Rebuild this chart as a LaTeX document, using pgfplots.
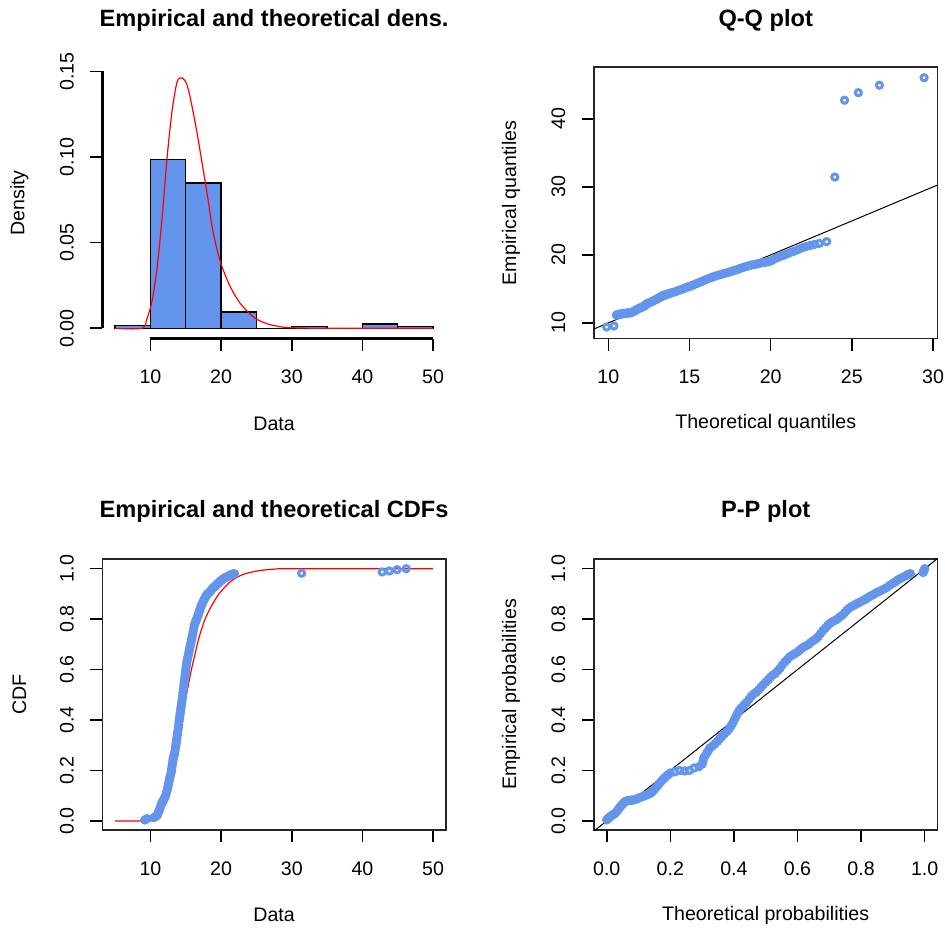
\documentclass[border=0pt]{standalone}
\usepackage{fontspec}
\setmainfont{Liberation Sans}
\usepackage{pgfplots}
\pgfplotsset{compat=1.18}
\definecolor{cfblue}{RGB}{100,149,237}

\pgfplotsset{
  rpanel/.style={
    scale only axis, width=171.7pt, height=135.7pt, anchor=south west,
    font=\fontsize{9.8}{11}\selectfont,
    tick align=outside, major tick length=6pt,
    tick style={black, line width=0.8pt},
    xtick pos=bottom, ytick pos=left,
    axis line style={black!85, line width=0.9pt},
    xticklabel shift=6.3pt,
    yticklabel style={rotate=90, anchor=south},
    yticklabel shift=4.8pt,
    every axis title/.style={at={(axis description cs:0.5,1)}, yshift=23.5pt, anchor=center,
      font=\bfseries\fontsize{11.8}{13}\selectfont},
    every axis x label/.style={at={(axis description cs:0.5,0)}, yshift=-42.5pt, anchor=center},
    every axis y label/.style={at={(axis description cs:0,0.5)}, xshift=-41.5pt, rotate=90, anchor=center},
  },
  pts/.style={only marks, mark=o, mark size=1.55pt, mark options={draw=cfblue, line width=1.5pt}},
}

\begin{document}
\begin{tikzpicture}
\useasboundingbox (0,0) rectangle (472.5pt,466pt);

% density
\begin{axis}[rpanel, at={(51.2pt,296.7pt)}, clip=false,
  axis line style={draw=none},
  xmin=3.2, xmax=51.8, ymin=-0.00602, ymax=0.1524,
  xtick={10,20,30,40,50}, xticklabels={10,20,30,40,50},
  ytick={0,0.05,0.1,0.15}, yticklabels={0.00,0.05,0.10,0.15},
  title={Empirical and theoretical dens.}, xlabel={Data}, ylabel={Density}]
\addplot[ybar interval, fill=cfblue, draw=black, line width=0.7pt] coordinates {
  (5,0.0017) (10,0.0985) (15,0.0847) (20,0.0096) (25,0) (30,0.0009)
  (35,0) (40,0.0026) (45,0.0009) (50,0.0009)};
\addplot[red, line width=0.6pt, smooth] coordinates {
  (5,0) (8.8,0) (9.5,0.0055) (10.24,0.0162) (10.95,0.0357) (11.66,0.0649)
  (12.36,0.0999) (13.07,0.1272) (13.78,0.1438) (14.49,0.1461) (15.2,0.1418)
  (15.9,0.1292) (16.61,0.1136) (17.32,0.0961) (18.03,0.0785) (18.74,0.059)
  (19.45,0.0454) (20.15,0.0357) (21.33,0.024) (22.75,0.0143) (24.64,0.0064)
  (26.53,0.0026) (28.9,0.0006) (31,0.0002) (35,0) (50,0)};
\draw[black, line width=1.3pt] (axis cs:3.2,0) -- (axis cs:3.2,0.15);
\draw[black, line width=1.3pt] (axis cs:10,-0.00602) -- (axis cs:50,-0.00602);
\end{axis}

% Q-Q
\begin{axis}[rpanel, at={(297pt,296.7pt)},
  xmin=9.12, xmax=30.27, ymin=7.7, ymax=47.6,
  xtick={10,15,20,25,30}, xticklabels={10,15,20,25,30},
  ytick={10,20,30,40}, yticklabels={10,20,30,40},
  title={Q-Q plot}, xlabel={Theoretical quantiles}, ylabel={Empirical quantiles}]
\addplot[pts] coordinates {
  (9.90,9.40) (10.35,9.55) (10.50,11.15) (10.56,11.25) (10.62,11.25) (10.70,11.30)
  (10.75,11.30) (10.82,11.32) (10.88,11.35) (10.95,11.38) (11.00,11.40) (11.08,11.42)
  (11.15,11.45) (11.22,11.46) (11.30,11.48) (11.38,11.50) (11.45,11.55) (11.52,11.65)
  (11.60,11.75) (11.68,11.85) (11.75,11.95) (11.82,12.05) (11.90,12.15) (11.98,12.22)
  (12.05,12.30) (12.12,12.38) (12.20,12.45) (12.28,12.62) (12.35,12.80) (12.42,12.88)
  (12.50,12.95) (12.58,13.02) (12.65,13.10) (12.72,13.20) (12.80,13.30) (12.88,13.38)
  (12.95,13.45) (13.02,13.55) (13.10,13.65) (13.18,13.78) (13.25,13.90) (13.32,13.98)
  (13.40,14.05) (13.48,14.10) (13.55,14.15) (13.62,14.22) (13.70,14.30) (13.78,14.35)
  (13.85,14.40) (14.00,14.50) (14.15,14.62) (14.30,14.75) (14.45,14.90)
  (14.60,15.00) (14.75,15.15) (14.90,15.30) (15.05,15.40) (15.20,15.55) (15.35,15.70)
  (15.50,15.85) (15.65,16.00) (15.80,16.15) (15.95,16.30) (16.10,16.45) (16.25,16.60)
  (16.40,16.72) (16.55,16.85) (16.70,16.98) (16.85,17.08) (17.00,17.18) (17.15,17.28)
  (17.30,17.38) (17.45,17.48) (17.60,17.60) (17.75,17.72) (17.90,17.82) (18.05,17.95)
  (18.20,18.08) (18.35,18.20) (18.50,18.30) (18.65,18.40) (18.80,18.50) (18.95,18.58)
  (19.10,18.65) (19.25,18.75) (19.40,18.82) (19.55,18.90) (19.70,18.95) (19.85,19.00)
  (20.00,19.10) (20.15,19.30) (20.30,19.50) (20.45,19.65) (20.60,19.80) (20.80,19.95)
  (21.00,20.15) (21.20,20.35) (21.45,20.55) (21.70,20.80) (21.95,21.05) (22.20,21.25)
  (22.45,21.40) (22.70,21.55) (23.00,21.70) (23.45,21.95) (23.95,31.45) (24.55,42.75)
  (25.40,43.85) (26.70,44.95) (29.45,46.05)};
\addplot[black, line width=0.5pt] coordinates {(9.12,9.12) (30.27,30.27)};
\end{axis}

% CDF
\begin{axis}[rpanel, at={(51.2pt,51pt)},
  xmin=3.2, xmax=51.8, ymin=-0.036, ymax=1.04,
  xtick={10,20,30,40,50}, xticklabels={10,20,30,40,50},
  ytick={0,0.2,0.4,0.6,0.8,1}, yticklabels={0.0,0.2,0.4,0.6,0.8,1.0},
  title={Empirical and theoretical CDFs}, xlabel={Data}, ylabel={CDF}]
\addplot[pts] coordinates {
  (9.20,0.004) (9.50,0.009) (10.50,0.013) (10.75,0.018) (10.95,0.022) (11.05,0.028)
  (11.15,0.035) (11.25,0.042) (11.35,0.050) (11.45,0.060) (11.55,0.068) (11.65,0.073)
  (11.75,0.078) (11.85,0.083) (11.95,0.088) (12.05,0.094) (12.15,0.100) (12.25,0.110)
  (12.35,0.120) (12.42,0.130) (12.50,0.140) (12.58,0.150) (12.65,0.160) (12.72,0.170)
  (12.80,0.178) (12.88,0.186) (12.95,0.195) (13.00,0.205) (13.05,0.215) (13.10,0.225)
  (13.15,0.235) (13.20,0.243) (13.25,0.250) (13.32,0.258) (13.40,0.265) (13.48,0.278)
  (13.55,0.290) (13.60,0.300) (13.65,0.310) (13.70,0.320) (13.75,0.330) (13.80,0.340)
  (13.85,0.350) (13.90,0.360) (13.95,0.370) (14.00,0.383) (14.05,0.395) (14.10,0.405)
  (14.15,0.415) (14.20,0.425) (14.25,0.435) (14.30,0.445) (14.35,0.455) (14.40,0.465)
  (14.45,0.475) (14.50,0.485) (14.55,0.495) (14.60,0.508) (14.65,0.520) (14.70,0.533)
  (14.75,0.545) (14.80,0.555) (14.85,0.565) (14.90,0.578) (14.95,0.590) (15.00,0.600)
  (15.05,0.610) (15.10,0.620) (15.15,0.630) (15.22,0.640) (15.30,0.650) (15.38,0.660)
  (15.45,0.670) (15.52,0.680) (15.60,0.690) (15.68,0.700) (15.75,0.710) (15.82,0.720)
  (15.90,0.730) (15.98,0.740) (16.05,0.750) (16.12,0.763) (16.20,0.775) (16.30,0.783)
  (16.40,0.790) (16.50,0.798) (16.60,0.805) (16.70,0.812) (16.80,0.820) (16.90,0.829)
  (17.00,0.838) (17.10,0.847) (17.20,0.855) (17.30,0.860) (17.40,0.865) (17.50,0.872)
  (17.60,0.878) (17.70,0.883) (17.80,0.888) (17.90,0.893) (18.00,0.898) (18.15,0.902)
  (18.30,0.905) (18.45,0.910) (18.60,0.915) (18.75,0.920) (18.90,0.925) (19.05,0.928)
  (19.20,0.932) (19.35,0.936) (19.50,0.940) (19.65,0.944) (19.80,0.948) (19.95,0.952)
  (20.10,0.955) (20.25,0.959) (20.40,0.962) (20.55,0.964) (20.70,0.966) (20.85,0.968)
  (21.00,0.970) (21.15,0.973) (21.30,0.975) (21.45,0.977) (21.60,0.978) (21.75,0.979)
  (21.90,0.980) (31.40,0.982) (42.80,0.987) (43.80,0.991) (44.90,0.996) (46.20,1.000)};
\addplot[red, line width=0.6pt, smooth] coordinates {
  (5,0) (9.8,0) (10.3,0.005) (10.8,0.015) (11.3,0.035) (11.8,0.065) (12.3,0.11)
  (12.8,0.17) (13.3,0.235) (13.8,0.31) (14.3,0.39) (14.8,0.46) (15.3,0.53) (15.8,0.6)
  (16.3,0.66) (16.8,0.72) (17.3,0.765) (17.8,0.805) (18.4,0.84) (19.0,0.87) (19.7,0.9)
  (20.5,0.926) (21.3,0.948) (22.2,0.965) (23.2,0.978) (24.4,0.987) (25.8,0.994)
  (27.5,0.998) (30,1) (50,1)};
\end{axis}

% P-P
\begin{axis}[rpanel, at={(297pt,51pt)},
  xmin=-0.04, xmax=1.04, ymin=-0.036, ymax=1.04,
  xtick={0,0.2,0.4,0.6,0.8,1}, xticklabels={0.0,0.2,0.4,0.6,0.8,1.0},
  ytick={0,0.2,0.4,0.6,0.8,1}, yticklabels={0.0,0.2,0.4,0.6,0.8,1.0},
  title={P-P plot}, xlabel={Theoretical probabilities}, ylabel={Empirical probabilities}]
\addplot[pts] coordinates {
  (0.000,0.004) (0.003,0.008) (0.005,0.011) (0.009,0.015) (0.012,0.018) (0.016,0.022)
  (0.020,0.025) (0.024,0.028) (0.028,0.032) (0.032,0.038) (0.036,0.045) (0.040,0.052)
  (0.044,0.058) (0.048,0.064) (0.052,0.070) (0.056,0.075) (0.060,0.078) (0.065,0.080)
  (0.070,0.082) (0.075,0.082) (0.080,0.082) (0.085,0.084) (0.090,0.085) (0.095,0.088)
  (0.100,0.090) (0.105,0.093) (0.110,0.095) (0.115,0.098) (0.120,0.100) (0.125,0.103)
  (0.130,0.105) (0.135,0.108) (0.140,0.112) (0.145,0.118) (0.150,0.125) (0.155,0.132)
  (0.160,0.140) (0.165,0.148) (0.170,0.155) (0.175,0.162) (0.180,0.168) (0.185,0.174)
  (0.190,0.180) (0.195,0.185) (0.200,0.190) (0.215,0.195) (0.230,0.200) (0.245,0.198)
  (0.260,0.200) (0.275,0.210) (0.290,0.215) (0.300,0.225) (0.303,0.238)
  (0.305,0.250) (0.310,0.260) (0.315,0.270) (0.320,0.280) (0.325,0.290) (0.333,0.298)
  (0.340,0.305) (0.348,0.315) (0.355,0.325) (0.362,0.335) (0.370,0.345) (0.378,0.355)
  (0.385,0.365) (0.390,0.375) (0.395,0.385) (0.400,0.398) (0.405,0.410) (0.410,0.423)
  (0.415,0.435) (0.420,0.443) (0.425,0.450) (0.432,0.460) (0.440,0.470) (0.448,0.483)
  (0.455,0.495) (0.462,0.503) (0.470,0.510) (0.478,0.520) (0.485,0.530) (0.492,0.540)
  (0.500,0.550) (0.508,0.560) (0.515,0.570) (0.522,0.578) (0.530,0.585) (0.538,0.595)
  (0.545,0.605) (0.552,0.618) (0.560,0.630) (0.568,0.640) (0.575,0.650) (0.582,0.656)
  (0.590,0.662) (0.598,0.668) (0.605,0.675) (0.612,0.683) (0.620,0.690) (0.628,0.695)
  (0.635,0.700) (0.642,0.708) (0.650,0.715) (0.658,0.722) (0.665,0.730) (0.672,0.742)
  (0.680,0.755) (0.688,0.765) (0.695,0.775) (0.702,0.783) (0.710,0.790) (0.718,0.795)
  (0.725,0.800) (0.732,0.808) (0.740,0.815) (0.748,0.825) (0.755,0.835) (0.762,0.843)
  (0.770,0.850) (0.778,0.855) (0.785,0.860) (0.792,0.865) (0.800,0.870) (0.808,0.875)
  (0.815,0.880) (0.822,0.886) (0.830,0.892) (0.838,0.897) (0.845,0.902) (0.852,0.907)
  (0.860,0.912) (0.870,0.918) (0.880,0.925) (0.890,0.934) (0.900,0.942) (0.908,0.948)
  (0.915,0.955) (0.922,0.960) (0.930,0.965) (0.938,0.970) (0.945,0.975) (0.950,0.978)
  (0.955,0.980) (0.995,0.985) (0.997,0.990) (0.998,0.994) (1.000,1.000)};
\addplot[black, line width=0.5pt] coordinates {(-0.04,-0.04) (1.04,1.04)};
\end{axis}
\end{tikzpicture}
\end{document}
